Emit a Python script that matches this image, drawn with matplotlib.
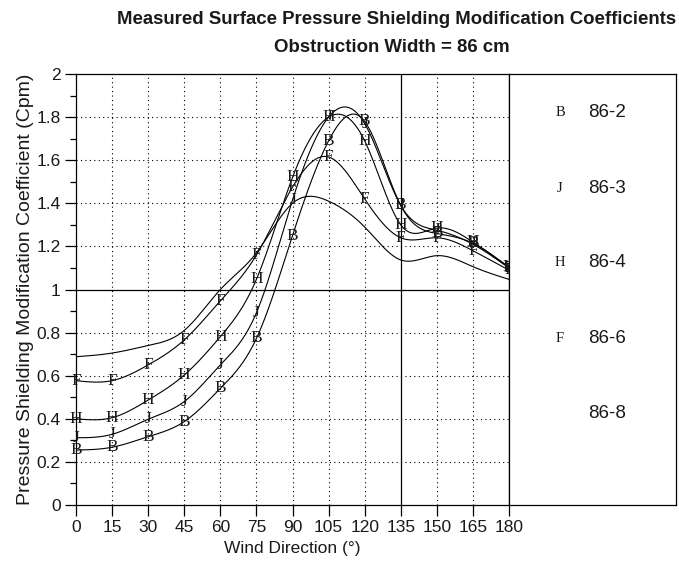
import numpy as np
import matplotlib
matplotlib.use("Agg")
import matplotlib.pyplot as plt
from matplotlib.ticker import MultipleLocator, FuncFormatter

# wind direction (deg) and Cpm values
angles = [0, 15, 30, 45, 60, 75, 90, 105, 120, 135, 150, 165, 180]
cpm_86_2 = [0.255, 0.268, 0.317, 0.387, 0.541, 0.773, 1.25, 1.69, 1.78, 1.39, 1.26, 1.215, 1.10]
cpm_86_3 = [0.312, 0.328, 0.398, 0.48, 0.65, 0.892, 1.415, 1.80, 1.77, 1.39, 1.275, 1.21, 1.10]
cpm_86_4 = [0.40, 0.405, 0.487, 0.603, 0.781, 1.047, 1.52, 1.80, 1.69, 1.30, 1.285, 1.22, 1.105]
cpm_86_6 = [0.577, 0.577, 0.65, 0.766, 0.947, 1.16, 1.475, 1.615, 1.42, 1.24, 1.24, 1.18, 1.09]
cpm_86_8 = [0.688, 0.705, 0.74, 0.81, 1.0, 1.17, 1.40, 1.41, 1.29, 1.137, 1.157, 1.106, 1.047]

labels = ["86-2", "86-3", "86-4", "86-6", "86-8"]
symbols = ["B", "J", "H", "F", ""]
series = [cpm_86_2, cpm_86_3, cpm_86_4, cpm_86_6, cpm_86_8]


def natural_spline(x, y, xs):
    # plain natural cubic spline, no scipy needed
    x = np.asarray(x, float)
    y = np.asarray(y, float)
    n = len(x)
    h = np.diff(x)
    A = np.zeros((n, n))
    r = np.zeros(n)
    A[0, 0] = A[-1, -1] = 1
    for i in range(1, n - 1):
        A[i, i - 1] = h[i - 1]
        A[i, i] = 2 * (h[i - 1] + h[i])
        A[i, i + 1] = h[i]
        r[i] = 6 * ((y[i + 1] - y[i]) / h[i] - (y[i] - y[i - 1]) / h[i - 1])
    m = np.linalg.solve(A, r)
    k = np.clip(np.searchsorted(x, xs) - 1, 0, n - 2)
    t = xs - x[k]
    hk = h[k]
    a = (m[k + 1] - m[k]) / (6 * hk)
    b = m[k] / 2
    c = (y[k + 1] - y[k]) / hk - hk * (2 * m[k] + m[k + 1]) / 6
    return y[k] + c * t + b * t ** 2 + a * t ** 3


fig = plt.figure(figsize=(6.79, 5.69), dpi=100)
ax = fig.add_axes([76 / 679, 1 - 505 / 569, 433 / 679, 431 / 569])
leg = fig.add_axes([509 / 679, 1 - 505 / 569, 167 / 679, 431 / 569])

txt = "#1a1a1a"
sans = ["Liberation Sans", "DejaVu Sans"]
serif = ["Liberation Serif", "DejaVu Serif"]

# grid: dotted, with solid lines at 135 deg and Cpm = 1
for gx in range(15, 180, 15):
    if gx == 135:
        ax.axvline(gx, color="black", lw=0.9, zorder=1)
    else:
        ax.axvline(gx, color="black", lw=0.8, ls=(0, (1, 3)), zorder=1)
for gy in np.arange(0.2, 2.0, 0.2):
    if abs(gy - 1) < 1e-6:
        ax.axhline(gy, color="black", lw=0.9, zorder=1)
    else:
        ax.axhline(gy, color="black", lw=0.8, ls=(0, (1, 3)), zorder=1)

xs = np.linspace(0, 180, 721)
for vals, sym in zip(series, symbols):
    ax.plot(xs, natural_spline(angles, vals, xs), color="black", lw=0.8, zorder=2)
    if sym:
        for a, v in zip(angles, vals):
            ax.text(a, v, sym, family=serif, fontsize=12.5, color=txt,
                    ha="center", va="center", zorder=3)

ax.set_xlim(0, 180)
ax.set_ylim(0, 2)
ax.set_xticks(angles)
ax.yaxis.set_major_locator(MultipleLocator(0.2))
ax.yaxis.set_minor_locator(MultipleLocator(0.1))
ax.yaxis.set_major_formatter(FuncFormatter(lambda v, p: "%g" % round(v, 2)))
ax.tick_params(axis="both", which="major", direction="out", length=8, width=0.9,
               labelsize=12.5, labelcolor=txt, pad=3)
ax.tick_params(axis="y", which="minor", direction="out", length=4, width=0.9)
for lab in ax.get_xticklabels() + ax.get_yticklabels():
    lab.set_family(sans)
for s in ax.spines.values():
    s.set_linewidth(0.9)

ax.set_xlabel("Wind Direction (°)", family=sans, fontsize=12.5, color=txt, labelpad=4)
ax.set_ylabel("Pressure Shielding Modification Coefficient (Cpm)", family=sans,
              fontsize=14, color=txt, labelpad=2)

# legend panel on the right
leg.set_xlim(0, 167)
leg.set_ylim(505, 74)
leg.set_xticks([])
leg.set_yticks([])
for s in leg.spines.values():
    s.set_linewidth(0.9)
leg_y = [112, 188, 262, 338, 413]
for yy, sym, lab in zip(leg_y, symbols, labels):
    if sym:
        leg.text(51, yy, sym, family=serif, fontsize=10.5, color=txt, ha="center", va="center")
    leg.text(79, yy, lab, family=sans, fontsize=13.5, color=txt, ha="left", va="center")

fig.text(397 / 679, 1 - 20 / 569, "Measured Surface Pressure Shielding Modification Coefficients",
         family=sans, fontsize=13.4, weight="bold", color=txt, ha="center", va="center")
fig.text(392 / 679, 1 - 48 / 569, "Obstruction Width = 86 cm",
         family=sans, fontsize=13.4, weight="bold", color=txt, ha="center", va="center")

fig.savefig("out.png", dpi=100)
